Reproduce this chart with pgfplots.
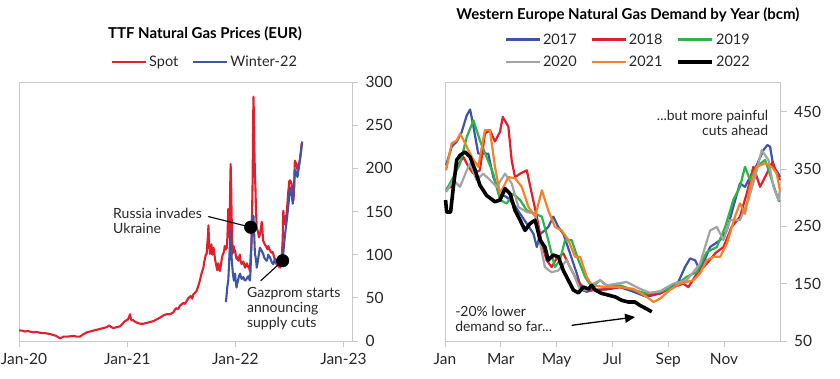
\documentclass[border=0pt]{standalone}
\usepackage{fontspec}
\setmainfont{Lato}
\usepackage{pgfplots}
\pgfplotsset{compat=1.18}
\usetikzlibrary{arrows.meta}
\definecolor{cRed}{HTML}{E31E2D}
\definecolor{cBlue}{HTML}{3C55A5}
\definecolor{cGreen}{HTML}{2DB34A}
\definecolor{cGray}{HTML}{A3A3A3}
\definecolor{cOrange}{HTML}{F5822A}
\definecolor{cFrame}{HTML}{C8C8C8}
\pgfplotsset{
  mybase/.style={
    scale only axis, height=259pt,
    axis line style={cFrame, line width=0.9pt},
    tick style={cFrame, line width=0.9pt},
    tick align=outside, major tick length=6pt,
    xtick pos=left, ytick pos=right, yticklabel pos=right,
    tick label style={font=\fontsize{15.5}{17}\selectfont, text=black!85},
    yticklabel style={xshift=4pt},
    xticklabel style={yshift=-3pt},
    /pgf/number format/assume math mode=true,
    clip=false,
    legend style={draw=none, fill=none, font=\fontsize{14.5}{16}\selectfont, text=black!85, inner sep=0pt,
      /tikz/every even column/.append style={column sep=12pt}},
    legend image code/.code={\draw[#1] (0pt,0pt) -- (34pt,0pt);},
    title style={font=\bfseries\fontsize{15}{18}\selectfont},
  },
}
\begin{document}
\begin{tikzpicture}[x=1pt,y=1pt]
\useasboundingbox (0,0) rectangle (840,378);
% ---------------- Left panel ----------------
\begin{axis}[mybase, at={(19pt,37pt)}, anchor=south west, width=333pt,
  xmin=0, xmax=1125, ymin=0, ymax=300,
  xtick={0,366,731,1096}, xticklabels={\hspace{10pt}Jan-20,Jan-21,Jan-22,Jan-23},
  ytick={0,50,...,300},
  title={TTF Natural Gas Prices (EUR)},
  title style={at={(rel axis cs:0.5586,1.162)}, anchor=center},
  legend columns=2,
  legend style={at={(rel axis cs:0.5586,1.078)}, anchor=center},
]
\addplot[cRed, line width=2.1pt, line join=round] coordinates {
(0,12.4)(10,12)(20,11)(30,11.5)(48,10)(60,10.5)(71,9.5)(90,9)(105,8)(115,7)(125,6)(132,4.5)(139,3)(150,5)(161,5)(175,5.5)(185,6)(195,5)(206,5)(218,8)(229,10)(240,11)(251,12)(262,13)(274,14)(285,15)(296,16)(305,18)(312,16)(319,15)(330,16)(341,17)(350,20)(358,23)(368,25)(372,28)(375,31)(378,26)(380,24)(386,24)(393,22)(400,21)(409,20)(420,20)(431,21)(443,22)(454,23)(465,25)(476,27)(490,30)(499,31)(510,31)(521,33)(530,38)(537,37)(544,41)(555,44)(560,43)(566,46)(573,50)(580,52)(585,49)(589,54)(595,56)(600,58)(606,64)(611,70)(618,80)(623,85)(626,92)(628,95)(631,100)(634,101)(636,112)(638,120)(640,134)(642,115)(643,110)(645,101)(648,105)(650,112)(653,100)(657,108)(660,102)(662,95)(665,90)(668,85)(670,82)(673,90)(676,84)(679,81)(682,88)(685,95)(688,100)(690,101)(693,104)(695,110)(698,106)(702,108)(704,120)(705,130)(707,153)(709,140)(711,120)(713,170)(715,205)(717,175)(718,150)(720,120)(721,101)(723,106)(725,110)(728,103)(730,105)(733,98)(735,95)(738,97)(741,93)(744,97)(746,100)(749,92)(752,89)(755,91)(758,92)(761,88)(764,85)(767,88)(770,90)(773,86)(775,87)(778,84)(780,81)(783,100)(786,116)(788,160)(789,180)(791,250)(792,283)(793,270)(794,240)(796,210)(797,194)(799,175)(800,160)(802,140)(803,132)(806,128)(808,125)(811,120)(814,124)(817,130)(820,138)(822,130)(823,125)(825,116)(828,114)(830,112)(834,110)(837,108)(840,106)(842,110)(845,107)(848,105)(851,103)(854,102)(857,103)(859,101)(862,97)(865,95)(868,91)(870,89)(873,88)(876,87)(879,86)(882,85)(885,87)(887,89)(889,105)(891,120)(892,140)(893,151)(895,142)(896,135)(898,138)(899,140)(902,144)(904,147)(906,155)(907,160)(909,170)(910,174)(912,180)(913,185)(915,186)(916,186)(919,184)(921,182)(923,176)(925,170)(927,163)(929,172)(930,180)(931,200)(932,209)(934,207)(935,205)(937,206)(938,205)(940,200)(941,198)(943,200)(944,202)(947,206)(949,210)(952,218)(955,229)
};
\addlegendentry{Spot}
\addplot[cBlue, line width=2.1pt, line join=round] coordinates {
(699,45)(701,52)(703,60)(705,66)(707,70)(709,85)(711,100)(713,115)(715,128)(716,115)(718,100)(719,92)(721,85)(722,80)(724,75)(726,70)(728,74)(730,78)(732,70)(735,62)(737,66)(740,70)(743,75)(747,78)(749,75)(752,72)(755,73)(758,74)(761,71)(764,70)(767,71)(769,72)(772,74)(775,75)(778,72)(780,70)(782,80)(783,90)(785,110)(786,124)(788,130)(789,135)(791,140)(792,145)(794,130)(795,120)(796,110)(797,101)(799,98)(800,95)(802,90)(803,85)(806,90)(808,95)(811,102)(814,108)(817,106)(819,105)(822,103)(825,101)(828,97)(831,95)(834,94)(837,93)(840,96)(842,100)(845,98)(848,97)(851,94)(853,92)(856,90)(859,89)(862,92)(864,95)(867,94)(870,93)(873,91)(876,90)(879,89)(882,89)(885,91)(887,92)(889,94)(891,95)(893,102)(895,110)(897,117)(899,124)(901,130)(903,135)(905,141)(907,147)(910,157)(912,165)(914,172)(916,178)(918,174)(921,170)(923,164)(925,159)(927,170)(929,180)(931,190)(932,198)(934,197)(936,195)(938,192)(941,190)(943,195)(945,200)(947,205)(949,209)(951,215)(953,220)(955,226)(957,231)
};
\addlegendentry{Winter-22}
\draw[black, line width=1.1pt] (axis cs:639.5,144.2) -- (axis cs:782.7,131.8);
\draw[black, line width=1.1pt] (axis cs:816.5,69.8) -- (axis cs:890.8,93);
\addplot[only marks, mark=*, mark size=6.3pt, black, forget plot] coordinates {(782.7,131.8)(890.8,93)};
\node[anchor=west, align=left, inner sep=0pt, font=\fontsize{14}{15}\selectfont, text=black!85] at (axis cs:317.6,139) {Russia invades\\Ukraine};
\node[anchor=west, align=left, inner sep=0pt, font=\fontsize{14}{15}\selectfont, text=black!85] at (axis cs:770,37.2) {Gazprom starts\\announcing\\supply cuts};
\end{axis}
% ---------------- Right panel ----------------
\begin{axis}[mybase, at={(445pt,37pt)}, anchor=south west, width=335.7pt,
  xmin=0, xmax=12.03, ymin=50, ymax=502,
  xtick={0,2,4,6,8,10}, xticklabels={Jan,Mar,May,Jul,Sep,Nov},
  ytick={50,150,250,350,450},
  title={Western Europe Natural Gas Demand by Year (bcm)},
  title style={at={(rel axis cs:0.545,1.237)}, anchor=center},
  legend columns=3,
  legend style={at={(rel axis cs:0.546,1.1205)}, anchor=center, /tikz/row sep=6.5pt},
]
\addplot[cBlue, line width=2.2pt, line join=round] coordinates {
(0.04,357)(0.24,389)(0.42,398)(0.6,415)(0.78,444)(0.9,454)(1.02,424)(1.19,377)(1.43,377)(1.55,377)(1.73,336)(1.97,307)(2.21,301)(2.45,290)(2.69,272)(2.93,255)(3.17,237)(3.29,214)(3.41,237)(3.58,243)(3.70,249)(3.88,267)(4.06,249)(4.24,237)(4.48,203)(4.72,168)(4.90,139)(5.08,136)(5.32,139)(5.79,140)(6.27,144)(6.75,136)(7.23,127)(7.71,133)(8.06,144)(8.36,153)(8.6,179)(8.78,194)(8.96,191)(9.14,173)(9.5,214)(9.86,226)(10.1,243)(10.33,284)(10.57,325)(10.75,319)(10.93,336)(11.17,357)(11.41,383)(11.55,392)(11.65,389)(11.77,354)(11.95,342)(12.0,336)
};
\addlegendentry{2017}
\addplot[cRed, line width=2.2pt, line join=round] coordinates {
(0.04,316)(0.24,319)(0.42,354)(0.66,371)(0.84,354)(1.02,342)(1.25,348)(1.43,412)(1.61,418)(1.79,398)(1.97,415)(2.07,441)(2.27,424)(2.39,365)(2.51,336)(2.69,342)(2.93,348)(3.11,307)(3.29,267)(3.47,220)(3.64,191)(3.82,179)(4.0,194)(4.24,203)(4.48,179)(4.72,156)(4.96,144)(5.2,139)(5.68,140)(6.27,144)(6.75,139)(7.23,130)(7.71,133)(8.18,144)(8.54,150)(8.72,144)(9.02,167)(9.38,185)(9.68,203)(9.98,214)(10.27,249)(10.57,267)(10.81,307)(11.05,354)(11.29,319)(11.53,342)(11.74,363)(11.89,342)(12.0,331)
};
\addlegendentry{2018}
\addplot[cGreen, line width=2.2pt, line join=round] coordinates {
(0.04,313)(0.3,336)(0.54,360)(0.78,406)(1.02,435)(1.25,400)(1.49,371)(1.73,342)(1.97,296)(2.21,290)(2.45,307)(2.69,296)(2.93,278)(3.23,272)(3.47,267)(3.70,226)(3.94,179)(4.12,191)(4.3,226)(4.54,226)(4.78,191)(5.02,162)(5.26,144)(5.56,156)(5.79,147)(6.27,147)(6.75,139)(7.23,133)(7.71,136)(8.18,144)(8.66,162)(9.02,170)(9.38,205)(9.74,214)(10.04,249)(10.33,296)(10.57,319)(10.75,354)(10.93,331)(11.17,354)(11.47,366)(11.71,331)(11.95,296)(12.0,293)
};
\addlegendentry{2019}
\addplot[cGray, line width=2.2pt, line join=round] coordinates {
(0.04,310)(0.3,331)(0.54,319)(0.78,348)(0.9,360)(1.13,331)(1.37,342)(1.61,331)(1.85,319)(2.15,342)(2.39,325)(2.63,284)(2.93,275)(3.23,272)(3.41,220)(3.58,179)(3.82,170)(4.06,173)(4.36,191)(4.6,168)(4.84,139)(5.08,139)(5.32,150)(5.56,156)(5.79,147)(6.51,153)(6.99,141)(7.35,134)(7.71,137)(8.18,150)(8.66,156)(9.14,185)(9.5,243)(9.74,249)(9.98,226)(10.22,261)(10.57,261)(10.87,296)(11.11,336)(11.35,383)(11.59,366)(11.77,319)(11.95,296)(12.0,313)
};
\addlegendentry{2020}
\addplot[cOrange, line width=2.2pt, line join=round] coordinates {
(0.04,348)(0.24,395)(0.42,400)(0.54,412)(0.72,395)(0.96,371)(1.19,354)(1.43,418)(1.61,418)(1.79,354)(1.97,307)(2.27,336)(2.51,334)(2.75,319)(2.99,284)(3.23,267)(3.47,313)(3.70,278)(3.94,249)(4.18,243)(4.42,226)(4.66,197)(4.84,197)(5.08,162)(5.26,147)(5.79,144)(6.27,144)(6.75,141)(7.23,127)(7.47,118)(7.71,124)(8.06,139)(8.42,150)(8.9,156)(9.14,168)(9.38,191)(9.62,197)(9.86,197)(10.1,220)(10.39,267)(10.57,290)(10.75,272)(10.93,319)(11.17,354)(11.47,360)(11.71,354)(11.89,342)(12.0,313)
};
\addlegendentry{2021}
\addplot[black, line width=3.6pt, line join=round] coordinates {
(0.02,296)(0.06,275)(0.2,275)(0.3,319)(0.42,366)(0.54,374)(0.72,380)(0.9,371)(1.08,348)(1.25,322)(1.49,304)(1.79,293)(1.97,296)(2.15,316)(2.33,307)(2.51,278)(2.69,261)(2.87,243)(3.05,255)(3.23,261)(3.41,226)(3.58,214)(3.7,191)(3.88,200)(4.06,197)(4.24,173)(4.42,156)(4.6,139)(4.78,134)(4.96,144)(5.14,141)(5.26,147)(5.38,139)(5.62,133)(5.86,130)(6.1,127)(6.33,121)(6.57,118)(6.81,118)(6.99,112)(7.23,106)(7.41,101)
};
\addlegendentry{2022}
\draw[-{Triangle[length=10pt,width=9pt]}, line width=1.3pt] (axis cs:4.54,77.4) -- (axis cs:6.81,91.9);
\node[anchor=west, align=left, inner sep=0pt, font=\fontsize{14}{15}\selectfont, text=black!85] at (axis cs:0.36,88.3) {-20\% lower\\demand so far...};
\node[anchor=east, align=right, inner sep=0pt, font=\fontsize{14}{15}\selectfont, text=black!85] at (axis cs:11.59,431) {...but more painful\\cuts ahead};
\end{axis}
\end{tikzpicture}
\end{document}
